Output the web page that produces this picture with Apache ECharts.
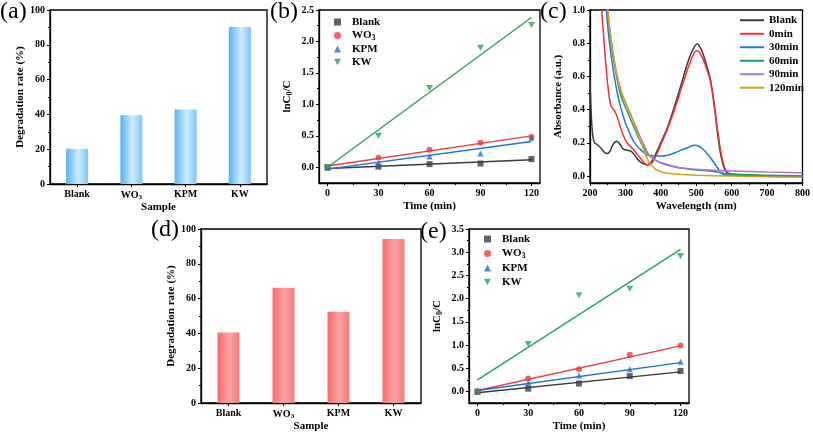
<!DOCTYPE html>
<html><head><meta charset="utf-8">
<script src="https://cdn.jsdelivr.net/npm/echarts@6/dist/echarts.min.js"></script>
<style>html,body{margin:0;padding:0;background:#fff}#c{width:813px;height:437px}</style>
</head><body><div id="c"></div>
<script>
// ---------- DATA ----------
const samples = ['Blank', 'WO3', 'KPM', 'KW'];
const rateA = [20.2, 39.5, 42.8, 90.2];
const rateD = [40.5, 66.2, 52.4, 94.2];

const timeMin = [0, 30, 60, 90, 120];
const fitX = [0, 120];
// panel (b)
const bBlank = [0.0, 0.01, 0.05, 0.06, 0.13];
const bWO3 = [0.0, 0.15, 0.28, 0.39, 0.48];
const bKPM = [-0.01, 0.06, 0.17, 0.22, 0.47];
const bKW = [0.0, 0.50, 1.26, 1.90, 2.26];
const bFitBlank = [-0.02, 0.12];
const bFitWO3 = [0.02, 0.50];
const bFitKPM = [-0.03, 0.41];
const bFitKW = [0.0, 2.38];
// panel (e)
const eBlank = [-0.01, 0.06, 0.17, 0.33, 0.44];
const eWO3 = [0.0, 0.28, 0.48, 0.79, 0.99];
const eKPM = [0.02, 0.18, 0.34, 0.48, 0.64];
const eKW = [0.0, 1.02, 2.07, 2.21, 2.92];
const eFitBlank = [-0.03, 0.42];
const eFitWO3 = [0.02, 0.98];
const eFitKPM = [0.02, 0.62];
const eFitKW = [0.25, 3.06];

// panel (c) spectra [wavelength nm, absorbance]
const specBlank = [[200,0.58],[204,0.35],[208,0.24],[213,0.2],[220,0.19],[230,0.17],[240,0.145],[247,0.135],[255,0.145],[265,0.19],[275,0.21],[285,0.19],[295,0.16],[305,0.155],[315,0.15],[325,0.13],[335,0.1],[345,0.08],[355,0.07],[362,0.068],[375,0.09],[385,0.13],[400,0.2],[420,0.3],[440,0.43],[460,0.57],[480,0.71],[495,0.78],[503,0.795],[510,0.78],[520,0.73],[530,0.66],[540,0.58],[550,0.44],[560,0.26],[570,0.12],[580,0.04],[590,0.015],[600,0.01],[650,0.005],[700,0.0],[800,-0.005]];
const spec0 = [[225,1.6],[232,1.05],[240,0.8],[250,0.55],[258,0.43],[263,0.41],[270,0.39],[278,0.35],[285,0.3],[295,0.24],[305,0.2],[318,0.17],[330,0.14],[345,0.1],[355,0.075],[362,0.066],[375,0.08],[388,0.13],[400,0.19],[420,0.29],[440,0.41],[460,0.54],[480,0.67],[495,0.745],[503,0.755],[510,0.74],[520,0.7],[530,0.64],[540,0.57],[550,0.44],[560,0.28],[570,0.14],[580,0.05],[590,0.02],[600,0.01],[650,0.005],[700,0.0],[800,0.0]];
const spec30 = [[240,1.5],[246,1.02],[252,0.86],[260,0.72],[270,0.58],[280,0.47],[290,0.39],[300,0.32],[310,0.27],[318,0.23],[326,0.2],[340,0.165],[350,0.145],[360,0.13],[375,0.122],[400,0.12],[420,0.125],[440,0.14],[460,0.158],[480,0.175],[495,0.185],[505,0.182],[520,0.16],[535,0.125],[550,0.08],[560,0.05],[570,0.02],[580,0.008],[600,0.005],[700,0.0],[800,0.0]];
const spec60 = [[242,1.6],[249,1.02],[255,0.88],[265,0.72],[275,0.6],[285,0.5],[295,0.44],[305,0.39],[315,0.34],[325,0.29],[335,0.24],[344,0.2],[355,0.16],[365,0.13],[375,0.11],[390,0.09],[410,0.07],[450,0.05],[500,0.037],[550,0.027],[580,0.015],[600,0.01],[650,0.008],[700,0.005],[800,0.002]];
const spec90 = [[243,1.6],[250,1.02],[256,0.88],[265,0.74],[275,0.62],[285,0.53],[295,0.47],[305,0.42],[315,0.37],[325,0.32],[335,0.27],[345,0.22],[354,0.18],[365,0.13],[375,0.11],[390,0.09],[410,0.075],[450,0.052],[500,0.041],[550,0.035],[600,0.031],[650,0.027],[700,0.024],[800,0.02]];
const spec120 = [[243,1.6],[250,1.02],[256,0.88],[265,0.74],[275,0.62],[285,0.53],[295,0.47],[305,0.42],[315,0.37],[325,0.31],[335,0.25],[345,0.2],[355,0.14],[365,0.09],[375,0.06],[390,0.035],[410,0.02],[450,0.01],[500,0.005],[600,0.0],[700,-0.005],[800,-0.008]];

const timeTicks = [0, 30, 60, 90, 120];
const timeMinor = [15, 45, 75, 105];
const bYTicks = [0, 0.5, 1.0, 1.5, 2.0, 2.5];
const bYMinor = [0.25, 0.75, 1.25, 1.75, 2.25];
const eYTicks = [0, 0.5, 1.0, 1.5, 2.0, 2.5, 3.0, 3.5];
const eYMinor = [0.25, 0.75, 1.25, 1.75, 2.25, 2.75, 3.25];
const cYTicks = [0, 0.2, 0.4, 0.6, 0.8, 1.0];
const cYMinor = [0.1, 0.3, 0.5, 0.7, 0.9];
const specNames = ['Blank', '0min', '30min', '60min', '90min', '120min'];

// ---------- STYLE ----------
const FF = '"Liberation Serif","Times New Roman",serif';
const richT = {
  n: {fontFamily: FF, fontWeight: 'bold', fontSize: 11, color: '#000', lineHeight: 12},
  s: {fontFamily: FF, fontWeight: 'bold', fontSize: 8, color: '#000', padding: [5, 0, 0, 0], lineHeight: 8},
  g: {width: 6}
};
const richL = {
  n: {fontFamily: FF, fontWeight: 'bold', fontSize: 10, color: '#000'},
  s: {fontFamily: FF, fontWeight: 'bold', fontSize: 7, color: '#000', padding: [5, 0, 0, 0]}
};
function sub(name) {
  if (name === 'WO3') return '{n|WO}{s|3}';
  return '{n|' + name + '}';
}
const lineBlack = {onZero: false, lineStyle: {color: '#000', width: 1.3}};
const tickStyle = {show: true, length: 3, lineStyle: {color: '#000', width: 1}};
const labelBase = {color: '#000', fontFamily: FF, fontWeight: 'bold', fontSize: 10, margin: 5};
const nameStyle = {color: '#000', fontFamily: FF, fontWeight: 'bold', fontSize: 11, rich: richT};
const gridBase = {show: true, borderColor: '#000', borderWidth: 1.3, backgroundColor: 'transparent'};

const grids = [
  Object.assign({left: 50, top: 10, width: 217, height: 174}, gridBase),
  Object.assign({left: 319, top: 10, width: 221, height: 173}, gridBase),
  Object.assign({left: 590, top: 10, width: 215, height: 173}, gridBase),
  Object.assign({left: 201, top: 229, width: 220, height: 174}, gridBase),
  Object.assign({left: 469, top: 229, width: 220, height: 174}, gridBase)
];

function catAxis(g) {
  return {type: 'category', gridIndex: g, data: samples, name: 'Sample', nameLocation: 'middle', nameGap: 18,
    nameTextStyle: nameStyle, axisLine: lineBlack, axisTick: Object.assign({alignWithLabel: true}, tickStyle),
    axisLabel: Object.assign({}, labelBase, {interval: 0, rich: richL, formatter: v => v === 'WO3' ? '{n|WO}{s|3}' : '{n|' + v + '}'}),
    splitLine: {show: false}};
}
function rateAxis(g) {
  return {type: 'value', gridIndex: g, min: 0, max: 100, interval: 20, name: 'Degradation rate (%)',
    nameLocation: 'middle', nameGap: 24, nameTextStyle: nameStyle, axisLine: Object.assign({show: true}, lineBlack),
    axisTick: tickStyle, minorTick: {show: true, splitNumber: 2, length: 2, lineStyle: {color: '#000'}},
    axisLabel: labelBase, splitLine: {show: false}};
}
function timeAxis(g) {
  return {type: 'value', gridIndex: g, min: -5, max: 125, name: 'Time (min)', nameLocation: 'middle', nameGap: 18,
    nameTextStyle: nameStyle, axisLine: lineBlack,
    axisTick: Object.assign({customValues: timeTicks}, tickStyle),
    axisLabel: Object.assign({customValues: timeTicks}, labelBase), splitLine: {show: false}};
}
function minorAxis(g, min, max, vals, pos) {
  return {type: 'value', gridIndex: g, min: min, max: max, position: pos, axisLine: {show: false, onZero: false},
    axisTick: {show: true, length: 2, customValues: vals, lineStyle: {color: '#000'}},
    axisLabel: {show: false}, splitLine: {show: false}};
}
function lnAxis(g, max, ticks) {
  return {type: 'value', gridIndex: g, min: -0.25, max: max, name: '{n|lnC}{s|0}{n|/C}', nameLocation: 'middle',
    nameGap: 26, nameTextStyle: nameStyle, axisLine: Object.assign({show: true}, lineBlack),
    axisTick: Object.assign({customValues: ticks}, tickStyle),
    axisLabel: Object.assign({customValues: ticks, formatter: v => v.toFixed(1)}, labelBase), splitLine: {show: false}};
}

const xAxis = [
  catAxis(0),
  timeAxis(1),
  {type: 'value', gridIndex: 2, min: 200, max: 800, interval: 100, name: 'Wavelength (nm)', nameLocation: 'middle',
    nameGap: 18, nameTextStyle: nameStyle, axisLine: lineBlack, axisTick: tickStyle,
    minorTick: {show: true, splitNumber: 2, length: 2, lineStyle: {color: '#000'}},
    axisLabel: labelBase, splitLine: {show: false}},
  catAxis(3),
  timeAxis(4),
  minorAxis(1, -5, 125, timeMinor, 'bottom'),
  minorAxis(4, -5, 125, timeMinor, 'bottom')
];
const yAxis = [
  rateAxis(0),
  lnAxis(1, 2.5, bYTicks),
  {type: 'value', gridIndex: 2, min: -0.042, max: 1.0, name: 'Absorbance (a.u.)', nameLocation: 'middle',
    nameGap: 26, nameTextStyle: nameStyle, axisLine: Object.assign({show: true}, lineBlack),
    axisTick: Object.assign({customValues: cYTicks}, tickStyle),
    axisLabel: Object.assign({customValues: cYTicks, formatter: v => v.toFixed(1)}, labelBase), splitLine: {show: false}},
  rateAxis(3),
  lnAxis(4, 3.5, eYTicks),
  minorAxis(1, -0.25, 2.5, bYMinor, 'left'),
  minorAxis(4, -0.25, 3.5, eYMinor, 'left'),
  minorAxis(2, -0.042, 1.0, cYMinor, 'left')
];

const kinColors = {Blank: '#3c3c3c', WO3: '#f23b3b', KPM: '#1f6fdd', KW: '#23a55a'};
const kinSymbols = {Blank: 'rect', WO3: 'circle', KPM: 'triangle', KW: 'path://M0,0 L10,0 L5,9 Z'};
const specColors = ['#3a3a3a', '#ff2a2a', '#1f78e6', '#1aa06a', '#b070e0', '#d4a017'];

const series = [];
function barSeries(g, vals, c1, c2, c3) {
  return {type: 'bar', xAxisIndex: g, yAxisIndex: g, data: vals, barWidth: 22,
    itemStyle: {color: new echarts.graphic.LinearGradient(0, 0, 1, 0, [
      {offset: 0, color: c1}, {offset: 0.55, color: c2}, {offset: 1, color: c3}])}};
}
series.push(barSeries(0, rateA, '#55b2f5', '#cdebfd', '#7cc6f8'));
series.push(barSeries(3, rateD, '#f86c6c', '#fba3a3', '#f87878'));

function kinetics(g, prefix, pts, fits) {
  ['Blank', 'WO3', 'KPM', 'KW'].forEach((k, i) => {
    series.push({type: 'line', xAxisIndex: g, yAxisIndex: g, name: prefix + 'fit' + k,
      data: fitX.map((x, j) => [x, fits[i][j]]), symbol: 'none', lineStyle: {color: kinColors[k], width: 1.4},
      z: 3, silent: true});
  });
  ['Blank', 'WO3', 'KPM', 'KW'].forEach((k, i) => {
    series.push({type: 'scatter', xAxisIndex: g, yAxisIndex: g, name: prefix + k,
      data: timeMin.map((x, j) => [x, pts[i][j]]), symbol: kinSymbols[k],
      symbolSize: k === 'KW' ? [7, 6] : 6, itemStyle: {color: kinColors[k]}, z: 4});
  });
}
kinetics(1, 'b:', [bBlank, bWO3, bKPM, bKW], [bFitBlank, bFitWO3, bFitKPM, bFitKW]);
kinetics(4, 'e:', [eBlank, eWO3, eKPM, eKW], [eFitBlank, eFitWO3, eFitKPM, eFitKW]);

[specBlank, spec0, spec30, spec60, spec90, spec120].forEach((d, i) => {
  series.push({type: 'line', xAxisIndex: 2, yAxisIndex: 2, name: 'c:' + specNames[i], data: d,
    smooth: 0.4, symbol: 'none', lineStyle: {color: specColors[i], width: 1.5}, itemStyle: {color: specColors[i]}});
});

function kinLegend(prefix, left, top, gap) {
  return {left: left, top: top, orient: 'vertical', itemWidth: 7, itemHeight: 7, itemGap: gap, padding: 0,
    data: ['Blank', 'WO3', 'KPM', 'KW'].map(k => prefix + k), selectedMode: false,
    formatter: n => '{g| }' + sub(n.slice(2)), textStyle: {rich: richT}};
}

const option = {
  animation: false,
  backgroundColor: '#fff',
  grid: grids,
  xAxis: xAxis,
  yAxis: yAxis,
  series: series,
  legend: [
    kinLegend('b:', 334, 16, 1),
    kinLegend('e:', 484, 233, 2),
    {left: 740, top: 14, orient: 'vertical', itemWidth: 24, itemHeight: 2, itemGap: 1, padding: 0,
      icon: 'rect', selectedMode: false,
      data: specNames.map(n => 'c:' + n), formatter: n => n.slice(2),
      textStyle: {fontFamily: FF, fontWeight: 'bold', fontSize: 11, color: '#000', lineHeight: 12.5}}
  ],
  graphic: [
    {type: 'text', left: 0, top: 0, style: {text: '(a)', font: '24px "Liberation Serif"', fill: '#000'}},
    {type: 'text', left: 270, top: 0, style: {text: '(b)', font: '24px "Liberation Serif"', fill: '#000'}},
    {type: 'text', left: 540, top: 0, style: {text: '(c)', font: '24px "Liberation Serif"', fill: '#000'}},
    {type: 'text', left: 151, top: 218, style: {text: '(d)', font: '24px "Liberation Serif"', fill: '#000'}},
    {type: 'text', left: 420, top: 220, style: {text: '(e)', font: '24px "Liberation Serif"', fill: '#000'}}
  ]
};
const chart = echarts.init(document.getElementById('c'), null, {renderer: 'canvas'});
chart.setOption(option);
</script></body></html>
